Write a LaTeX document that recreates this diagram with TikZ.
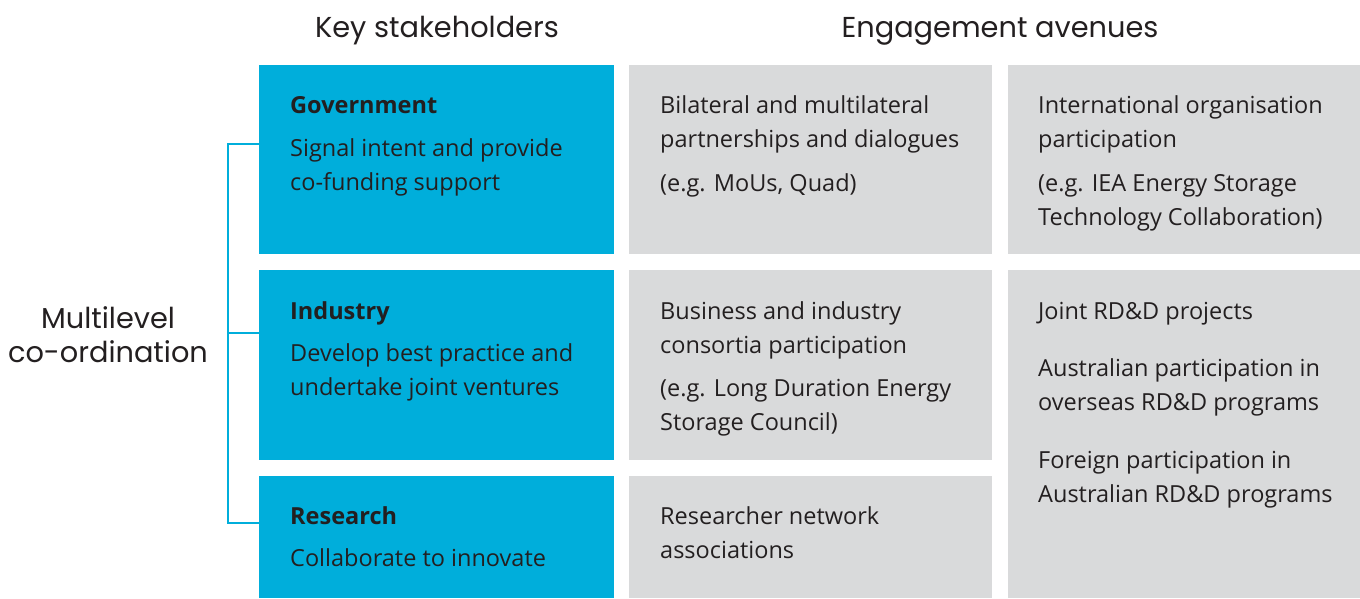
\documentclass[tikz,border=0pt]{standalone}
\usepackage{fontspec}
\setmainfont{Open Sans}
\newfontfamily\headfont{Poppins}
\definecolor{skblue}{HTML}{00AEDB}
\definecolor{avgrey}{HTML}{D9DADB}
\definecolor{ink}{HTML}{231F20}

\begin{document}
\begin{tikzpicture}[
  x=1pt,
  y=-1pt,
  skbox/.style={fill=skblue,draw=none,anchor=north west,inner sep=0pt,minimum width=355pt},
  avbox/.style={fill=avgrey,draw=none,anchor=north west,inner sep=0pt},
  txt/.style={anchor=base west,inner sep=0pt,align=left,text=ink,font=\fontsize{23.5}{34.5}\selectfont},
  ttl/.style={txt,font=\fontsize{23.5}{34.5}\selectfont\bfseries},
  head/.style={anchor=base,inner sep=0pt,align=center,text=ink,font=\headfont\fontsize{28.8}{34}\selectfont},
  link/.style={draw=skblue,line width=2.2pt}
]
\useasboundingbox (0,0) rectangle (1360,598);

% stakeholder boxes
\node[skbox,minimum height=189pt] (gov) at (259,65) {};
\node[skbox,minimum height=190pt] (ind) at (259,270) {};
\node[skbox,minimum height=122pt] (res) at (259,476) {};

% engagement avenues
\node[avbox,minimum width=363pt,minimum height=189pt] (bilat) at (629,65) {};
\node[avbox,minimum width=363pt,minimum height=190pt] (cons) at (629,270) {};
\node[avbox,minimum width=363pt,minimum height=122pt] (net) at (629,476) {};
\node[avbox,minimum width=352pt,minimum height=189pt] (intl) at (1008,65) {};
\node[avbox,minimum width=352pt,minimum height=328pt] (joint) at (1008,270) {};

% headings (base = last line)
\node[head] (hkey) at (437,37) {Key stakeholders};
\node[head] (heng) at (1000,37) {Engagement avenues};
\node[head] (hmlc) at (108,362) {Multilevel\\co-ordination};

% bracket
\coordinate (bgov) at (259,144);
\coordinate (bind) at (259,333);
\coordinate (bres) at (259,523);
\coordinate (jtop) at (228,144);
\coordinate (jbot) at (228,523);
\draw[link] (bgov) -- (jtop) -- (jbot) -- (bres);
\draw[link] (jtop |- bind) -- (bind);

% stakeholder texts
\node[ttl] (tgov) at (290,113) {Government};
\node[txt] (dgov) at (290,190.5) {Signal intent and provide\\co-funding support};
\node[ttl] (tind) at (290,319) {Industry};
\node[txt] (dind) at (290,395.5) {Develop best practice and\\undertake joint ventures};
\node[ttl] (tres) at (290,524) {Research};
\node[txt] (dres) at (290,566) {Collaborate to innovate};

% avenue texts
\node[txt] (abilat) at (660,147.5) {Bilateral and multilateral\\partnerships and dialogues};
\node[txt] (ebilat) at (660,191) {(e.g. MoUs, Quad)};
\node[txt] (acons) at (660,353.5) {Business and industry\\consortia participation};
\node[txt] (econs) at (660,430.5) {(e.g. Long Duration Energy\\Storage Council)};
\node[txt] (anet) at (660,558.5) {Researcher network\\associations};
\node[txt] (aintl) at (1038,147.5) {International organisation\\participation};
\node[txt] (eintl) at (1038,225.5) {(e.g. IEA Energy Storage\\Technology Collaboration)};
\node[txt] (ajoint) at (1038,319) {Joint RD\&D projects};
\node[txt] (aaus) at (1038,410.5) {Australian participation in\\overseas RD\&D programs};
\node[txt] (afor) at (1038,502.5) {Foreign participation in\\Australian RD\&D programs};
\end{tikzpicture}
\end{document}
